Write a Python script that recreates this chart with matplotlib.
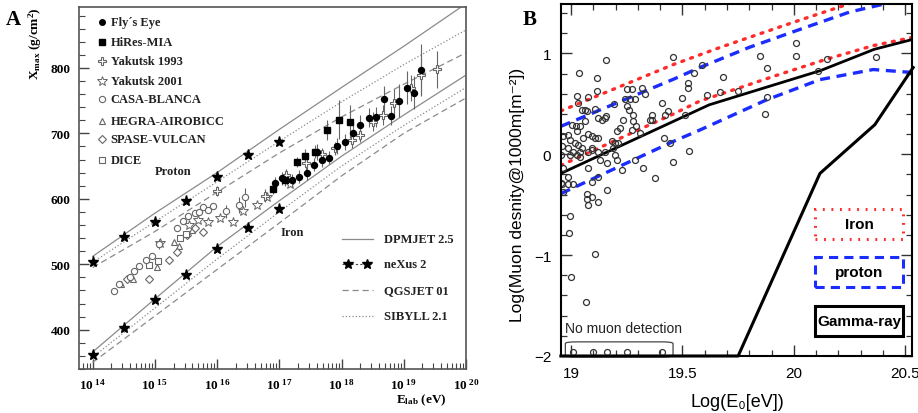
import numpy as np
import matplotlib
matplotlib.use('Agg')
import matplotlib.pyplot as plt
from matplotlib.patches import FancyBboxPatch, Rectangle
from matplotlib.ticker import FixedLocator, MultipleLocator, LogLocator, NullFormatter

plt.rcParams['mathtext.fontset'] = 'custom'
plt.rcParams['mathtext.rm'] = 'Liberation Serif:bold'
plt.rcParams['mathtext.it'] = 'Liberation Serif:bold'
plt.rcParams['mathtext.bf'] = 'Liberation Serif:bold'

# ---------------- Panel A data (log10 E, Xmax) ----------------
model_lgE = [14, 15, 16, 17, 18, 19, 20]
dpm_p = [512, 578, 640, 706, 770, 833, 898]
sib_p = [503, 565, 626, 688, 748, 805, 858]
qgs_p = [495, 550, 610, 670, 725, 775, 823]
dpm_fe = [366, 447, 527, 597, 665, 728, 789]
sib_fe = [358, 433, 508, 580, 650, 712, 770]
qgs_fe = [350, 421, 492, 563, 635, 700, 754]

nexus_lgE = [14, 14.5, 15, 15.5, 16, 16.5, 17]
nexus_p = [504, 541, 565, 597, 633, 667, 687]
nexus_fe = [362, 402, 446, 484, 523, 555, 584]

fe_lgE = [16.93, 17.05, 17.2, 17.32, 17.44, 17.56, 17.61, 17.68, 17.80, 17.93, 18.06,
          18.19, 18.30, 18.44, 18.55, 18.68, 18.80, 18.92, 19.05, 19.17, 19.27]
fe_X = [624, 631, 628, 634, 639, 652, 671, 659, 663, 681, 687,
        700, 713, 724, 725, 752, 727, 750, 770, 762, 797]
fe_err = [10, 10, 10, 10, 10, 10, 12, 10, 10, 12, 12, 12, 15, 15, 15, 20, 15, 25, 25, 25, 40]

hires_lgE = [16.90, 17.09, 17.28, 17.41, 17.58, 17.76, 17.96, 18.13]
hires_X = [615, 629, 656, 666, 672, 705, 721, 718]
hires_err = [8, 10, 8, 10, 10, 15, 30, 25]

yak93_lgE = [16.0, 16.77, 17.11, 17.43, 17.68, 17.90, 18.17, 18.30, 18.51, 18.67, 18.84, 19.11, 19.28, 19.53]
yak93_X = [612, 605, 636, 654, 668, 677, 690, 698, 718, 728, 747, 769, 789, 798]
yak93_err = [8, 10, 10, 10, 10, 10, 12, 12, 15, 15, 20, 20, 30, 28]

yak01_lgE = [15.08, 15.55, 15.70, 15.86, 16.05, 16.26, 16.42, 16.64, 16.80, 17.17]
yak01_X = [532, 560, 567, 565, 571, 565, 581, 591, 603, 622]

casa_lgE = [14.35, 14.43, 14.60, 14.66, 14.75, 14.86, 14.95, 15.07, 15.35, 15.45,
            15.54, 15.65, 15.71, 15.78, 15.86, 15.94, 16.15, 16.36, 16.45]
casa_X = [459, 470, 481, 489, 497, 506, 512, 531, 556, 566,
          573, 578, 580, 588, 583, 589, 581, 590, 602]
casa_err = [0, 0, 0, 0, 0, 0, 0, 8, 0, 0, 0, 0, 0, 0, 0, 0, 10, 12, 15]

hegra_lgE = [14.45, 14.65, 15.03, 15.30, 15.38, 15.60]
hegra_X = [470, 477, 496, 534, 528, 552]

spase_lgE = [14.55, 14.90, 15.22, 15.35, 15.51, 15.65, 15.78]
spase_X = [478, 477, 506, 519, 545, 556, 550]

dice_lgE = [14.90, 15.05, 15.40, 15.50]
dice_X = [499, 505, 540, 546]

a_xticks = [14, 15, 16, 17, 18, 19, 20]
a_yticks = [400, 500, 600, 700, 800]

# ---------------- Panel B data ----------------
b_x = [18.958, 18.955, 18.965, 18.955, 18.988, 19.036, 19.115, 19.157, 19.025, 19.033,
       19.078, 19.063, 19.07, 19.108, 19.122, 19.138, 19.152, 19.063, 19.003, 19.04,
       19.078, 19.093, 19.108, 19.122, 19.025, 18.988, 18.995, 19.018, 19.033, 19.048,
       19.04, 19.01, 18.995, 19.025, 19.04, 19.078, 19.093, 19.122, 19.152, 19.182,
       19.197, 19.212, 19.19, 19.205, 19.235, 19.242, 19.264, 19.25, 19.272, 19.287,
       19.317, 19.332, 19.25, 19.28, 19.28, 19.272, 19.294, 19.362, 19.354, 19.407,
       19.421, 19.436, 19.444, 19.459, 19.459, 19.377, 19.324, 19.287, 19.227, 19.205,
       19.197, 19.16, 19.122, 19.093, 19.07, 19.07, 19.093, 19.078, 19.122, 18.988,
       18.958, 18.965,
       19.022, 19.054, 19.094, 19.13, 19.157, 19.193, 19.22, 18.987, 19.009, 19.076,
       19.117, 19.26, 19.31, 19.363, 19.417, 19.161, 19.049, 18.964,
       19.496, 19.51, 19.526, 19.526, 19.53, 19.55, 19.586,
       19.61, 19.67, 19.68, 19.75, 19.85, 19.88, 19.87, 19.88, 20.01, 20.01, 20.11, 20.15, 20.37,
       18.995, 18.99, 19.11, 19.0, 19.066,
       19.01, 19.10, 19.16, 19.25, 19.41]
b_y = [0.077, -0.007, -0.14, -0.28, -0.29, 0.81, 0.76, 0.933, 0.577, 0.51,
       0.567, 0.443, 0.427, 0.453, 0.36, 0.343, 0.36, 0.327, 0.293, 0.277,
       0.2, 0.177, 0.16, 0.16, 0.227, 0.193, 0.143, 0.11, 0.093, 0.06,
       0.027, 0.027, -0.007, -0.007, -0.023, 0.027, 0.043, 0.027, 0.027, 0.127,
       0.11, 0.11, 0.06, 0.227, 0.343, 0.543, 0.543, 0.643, 0.643, 0.543,
       0.66, 0.593, 0.477, 0.393, 0.327, 0.243, 0.277, 0.393, 0.343, 0.51,
       0.393, 0.427, 0.11, 0.96, -0.073, -0.24, -0.14, -0.057, -0.157, -0.057,
       -0.007, -0.357, -0.223, -0.273, -0.39, -0.44, -0.423, -0.507, -0.473, -0.223,
       -0.29, -0.373,
       0.28, 0.16, 0.06, -0.06, 0.38, 0.50, 0.26, 0.06, -0.29, -0.14,
       0.63, 0.44, 0.21, 0.34, 0.16, -0.09, 0.44, 0.18,
       0.56, 0.39, 0.66, 0.71, 0.03, 0.81, 0.88,
       0.59, 0.62, 0.77, 0.63, 0.97, 0.86, 0.40, 0.57, 1.10, 0.97, 0.83, 0.94, 0.96,
       -0.61, -0.78, -0.99, -1.22, -1.46,
       -1.965, -1.965, -1.965, -1.965, -1.965]

fit_x = [18.955, 19.62, 20.12, 20.36, 20.535]
fit_y = [-0.19, 0.49, 0.83, 1.04, 1.14]
iron_up_x = [18.955, 19.46, 19.67, 20.0, 20.3]
iron_up_y = [0.43, 0.89, 1.06, 1.31, 1.53]
iron_lo_x = [18.955, 19.46, 19.578, 19.758, 19.937, 20.147, 20.356, 20.535]
iron_lo_y = [-0.11, 0.40, 0.527, 0.66, 0.793, 0.943, 1.077, 1.16]
prot_up_x = [18.955, 19.459, 19.578, 19.80, 20.03, 20.25, 20.445]
prot_up_y = [0.277, 0.743, 0.86, 1.06, 1.24, 1.41, 1.51]
prot_lo_x = [18.955, 19.459, 19.578, 19.878, 20.117, 20.356, 20.535]
prot_lo_y = [-0.39, 0.127, 0.24, 0.54, 0.74, 0.84, 0.81]
gamma_x = [18.955, 19.75, 20.117, 20.363, 20.535]
gamma_y = [-2.0, -2.0, -0.19, 0.293, 0.86]

b_xticks = [19, 19.5, 20, 20.5]
b_xticklabels = ['19', '19.5', '20', '20.5']
b_yticks = [-2, -1, 0, 1]

# ---------------- Figure ----------------
fig = plt.figure(figsize=(9.18, 4.14), dpi=100)
SERIF = 'Liberation Serif'
SANS = ['Liberation Sans', 'DejaVu Sans']

axA = fig.add_axes([0.086, 0.1063, 0.4216, 0.8744])
E = lambda a: 10 ** np.asarray(a, dtype=float)
grey = '#8a8a8a'
for ys, ls in [(dpm_p, '-'), (sib_p, ':'), (qgs_p, (0, (5, 3)))]:
    axA.plot(E(model_lgE), ys, color=grey, lw=0.9, ls=ls)
for ys, ls in [(dpm_fe, '-'), (sib_fe, ':'), (qgs_fe, (0, (5, 3)))]:
    axA.plot(E(model_lgE), ys, color=grey, lw=0.9, ls=ls)
axA.plot(E(nexus_lgE), nexus_p, ls='none', marker='*', ms=8, color='black')
axA.plot(E(nexus_lgE), nexus_fe, ls='none', marker='*', ms=8, color='black')

hol = '#666666'
axA.errorbar(E(casa_lgE), casa_X, yerr=casa_err, fmt='o', ms=4.5, mfc='white', mec=hol,
             mew=0.8, ecolor=hol, elinewidth=0.8, capsize=0)
axA.plot(E(hegra_lgE), hegra_X, ls='none', marker='^', ms=4.5, mfc='white', mec=hol, mew=0.8)
axA.plot(E(spase_lgE), spase_X, ls='none', marker='D', ms=3.8, mfc='white', mec=hol, mew=0.8)
axA.plot(E(dice_lgE), dice_X, ls='none', marker='s', ms=4, mfc='white', mec=hol, mew=0.8)
axA.plot(E(yak01_lgE), yak01_X, ls='none', marker='*', ms=7, mfc='white', mec=hol, mew=0.7)
axA.errorbar(E(yak93_lgE), yak93_X, yerr=yak93_err, fmt='P', ms=6, mfc='white', mec=hol,
             mew=0.8, ecolor=hol, elinewidth=0.8, capsize=0)
axA.errorbar(E(hires_lgE), hires_X, yerr=hires_err, fmt='s', ms=4.3, color='black',
             ecolor=hol, elinewidth=0.8, capsize=0)
axA.errorbar(E(fe_lgE), fe_X, yerr=fe_err, fmt='o', ms=4.3, color='black',
             ecolor=hol, elinewidth=0.8, capsize=0)

axA.set_xscale('log')
axA.set_xlim(10 ** 13.78, 1e20)
axA.set_ylim(340, 893)
axA.xaxis.set_major_locator(FixedLocator(E(a_xticks)))
axA.xaxis.set_minor_locator(LogLocator(base=10, subs=range(2, 10), numticks=20))
axA.xaxis.set_minor_formatter(NullFormatter())
axA.set_xticklabels(['10$^{\\ %d}$' % t for t in a_xticks])
axA.yaxis.set_major_locator(FixedLocator(a_yticks))
axA.yaxis.set_minor_locator(MultipleLocator(20))
axA.tick_params(which='both', direction='in', top=False, right=False, colors='#444',
                labelcolor='black', pad=6)
axA.tick_params(which='major', length=7, width=1)
axA.tick_params(which='minor', length=4, width=0.8)
for lab in axA.get_xticklabels() + axA.get_yticklabels():
    lab.set_fontfamily(SERIF)
    lab.set_fontweight('bold')
    lab.set_fontsize(9.5)
for s in axA.spines.values():
    s.set_color('#555')
    s.set_linewidth(1.2)

tb = dict(fontfamily=SERIF, fontweight='bold', fontsize=9, color='#222')
axA.text(E(15.29), 642, 'Proton', ha='center', va='center', **tb)
axA.text(E(17.2), 550, 'Iron', ha='center', va='center', **tb)

# legend 1 (markers), manual
leg1 = [("Fly\u00b4s Eye", dict(marker='o', ms=4, color='black')),
        ("HiRes-MIA", dict(marker='s', ms=4, color='black')),
        ("Yakutsk 1993", dict(marker='P', ms=6, mfc='white', mec=hol, mew=0.8)),
        ("Yakutsk 2001", dict(marker='*', ms=7, mfc='white', mec=hol, mew=0.7)),
        ("CASA-BLANCA", dict(marker='o', ms=4.5, mfc='white', mec=hol, mew=0.8)),
        ("HEGRA-AIROBICC", dict(marker='^', ms=4.5, mfc='white', mec=hol, mew=0.8)),
        ("SPASE-VULCAN", dict(marker='D', ms=3.8, mfc='white', mec=hol, mew=0.8)),
        ("DICE", dict(marker='s', ms=4, mfc='white', mec=hol, mew=0.8))]
ly = [0.9586, 0.903, 0.851, 0.796, 0.746, 0.685, 0.635, 0.577]
for (lab, kw), y in zip(leg1, ly):
    axA.plot([0.0587], [y], transform=axA.transAxes, ls='none', clip_on=False, **kw)
    axA.text(0.082, y, lab, transform=axA.transAxes, ha='left', va='center', **tb)

# legend 2 (models)
l2y = [0.359, 0.290, 0.218, 0.146]
l2lab = ['DPMJET 2.5', 'neXus 2', 'QGSJET 01', 'SIBYLL 2.1']
axA.plot([0.679, 0.760], [l2y[0]] * 2, transform=axA.transAxes, color=grey, lw=0.9)
axA.plot([0.679, 0.760], [l2y[1]] * 2, transform=axA.transAxes, color='#444', lw=0.8,
         ls=(0, (2, 2)))
axA.plot([0.695, 0.745], [l2y[1]] * 2, transform=axA.transAxes, ls='none', marker='*',
         ms=7, color='black')
axA.plot([0.679, 0.760], [l2y[2]] * 2, transform=axA.transAxes, color=grey, lw=0.9,
         ls=(0, (5, 3)))
axA.plot([0.679, 0.760], [l2y[3]] * 2, transform=axA.transAxes, color=grey, lw=0.9, ls=':')
for lab, y in zip(l2lab, l2y):
    axA.text(0.789, y, lab, transform=axA.transAxes, ha='left', va='center', **tb)

axA.text(0.884, -0.083, r'E$_{\rm lab}$ (eV)', transform=axA.transAxes, ha='center',
         va='center', fontfamily=SERIF, fontweight='bold', fontsize=9.5)
axA.text(-0.114, 0.903, r'X$_{\rm max}$ (g/cm$^{2}$)', transform=axA.transAxes,
         rotation=90, ha='center', va='center', fontfamily=SERIF, fontweight='bold',
         fontsize=9.5)
fig.text(0.0065, 0.9396, 'A', fontfamily=SERIF, fontweight='bold', fontsize=15,
         va='baseline')

# ---------------- Panel B ----------------
axB = fig.add_axes([0.611, 0.1377, 0.3825, 0.8503])
red_ls = (0, (0.6, 2.2))
blue_ls = (0, (3, 2))
axB.plot(iron_up_x, iron_up_y, color='#ff2a2a', lw=2.4, ls=red_ls, dash_capstyle='round')
axB.plot(iron_lo_x, iron_lo_y, color='#ff2a2a', lw=2.4, ls=red_ls, dash_capstyle='round')
axB.plot(prot_up_x, prot_up_y, color='#1a2cff', lw=2.4, ls=blue_ls)
axB.plot(prot_lo_x, prot_lo_y, color='#1a2cff', lw=2.4, ls=blue_ls)
axB.plot(fit_x, fit_y, color='black', lw=2.0)
axB.plot(gamma_x, gamma_y, color='black', lw=2.2, clip_on=False)
axB.plot(b_x, b_y, ls='none', marker='o', ms=4.3, mfc='none', mec='#333', mew=0.9)

axB.set_xlim(18.955, 20.53)
axB.set_ylim(-2, 1.49)
axB.xaxis.set_major_locator(FixedLocator(b_xticks))
axB.set_xticklabels(b_xticklabels)
axB.xaxis.set_minor_locator(MultipleLocator(0.1))
axB.yaxis.set_major_locator(FixedLocator(b_yticks))
axB.yaxis.set_minor_locator(MultipleLocator(0.2))
axB.tick_params(which='both', direction='in', top=True, right=True, pad=7, color='#333')
axB.tick_params(which='major', length=8, width=1)
axB.tick_params(which='minor', length=4, width=0.9)
for lab in axB.get_xticklabels() + axB.get_yticklabels():
    lab.set_fontfamily(SANS)
    lab.set_fontsize(11)
for s in axB.spines.values():
    s.set_linewidth(1.5)

box = FancyBboxPatch((18.975, -2.01), 0.483, 0.15,
                     boxstyle='round,pad=0,rounding_size=0.05',
                     mutation_aspect=1.0 / 3.0, fc='none', ec='#444', lw=0.9,
                     clip_on=False)
axB.add_patch(box)
axB.text(18.975, -1.72, 'No muon detection', ha='left', va='center', fontsize=10,
         fontfamily=SANS, color='#222')

for (y0, y1), lab, ec, ls in [((0.332, 0.418), 'Iron', '#ff2a2a', red_ls),
                              ((0.196, 0.281), 'proton', '#1a2cff', blue_ls),
                              ((0.057, 0.142), 'Gamma-ray', 'black', '-')]:
    r = Rectangle((0.7236, y0), 0.2504, y1 - y0, transform=axB.transAxes, fc='white',
                  ec=ec, lw=2.2, ls=ls)
    axB.add_patch(r)
    axB.text(0.8488, (y0 + y1) / 2, lab, transform=axB.transAxes, ha='center',
             va='center', fontsize=11, fontweight='bold', fontfamily=SANS)

axB.text(0.504, -0.128, 'Log(E\u2080[eV])', transform=axB.transAxes, ha='center',
         va='center', fontsize=13, fontfamily=SANS)
axB.text(-0.125, 0.46, 'Log(Muon desnity@1000m[m\u207b\u00b2])', transform=axB.transAxes,
         rotation=90, ha='center', va='center', fontsize=12.5, fontfamily=SANS)
fig.text(0.5697, 0.9396, 'B', fontfamily=SERIF, fontweight='bold', fontsize=15,
         va='baseline')

fig.savefig('out.png', dpi=100)
